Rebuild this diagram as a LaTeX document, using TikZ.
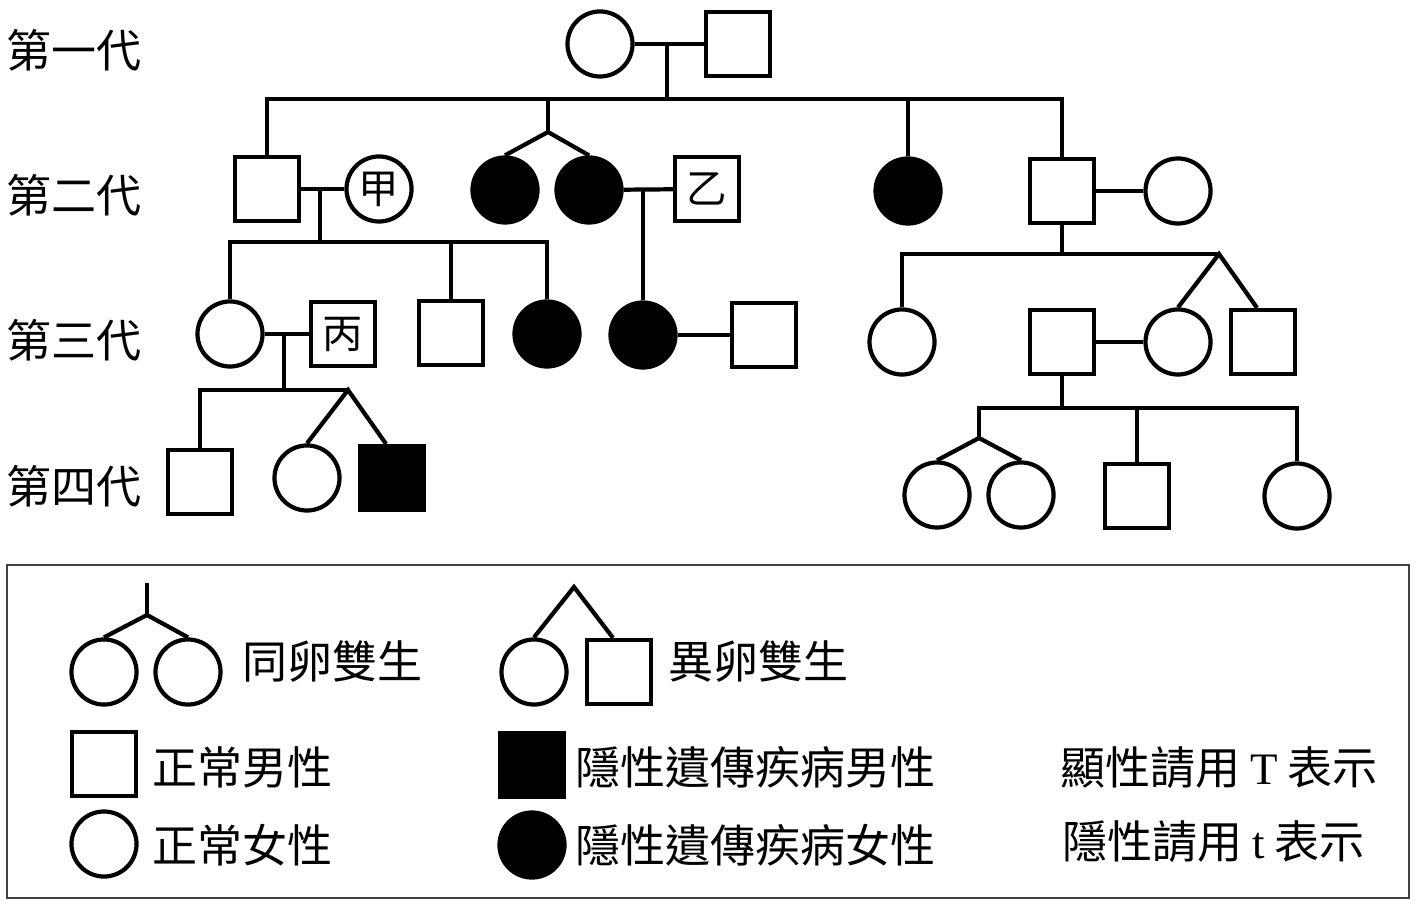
\documentclass[tikz,border=0pt]{standalone}
\usepackage{fontspec}
\newfontfamily\cjk{Noto Sans CJK TC}
\newfontfamily\latn{Liberation Serif}
\begin{document}
\begin{tikzpicture}[x=0.01cm, y=-0.01cm, line width=1.2pt,
    male/.style={rectangle, draw, minimum size=0.64cm, inner sep=0pt, font=\cjk\fontsize{11.5}{12}\selectfont},
    female/.style={circle, draw, minimum size=0.65cm, inner sep=0pt, font=\cjk\fontsize{11.5}{12}\selectfont},
    ill/.style={fill=black},
    txt/.style={anchor=west, inner sep=0pt, font=\cjk\fontsize{12.8}{14}\selectfont}]
    \useasboundingbox (0,0) rectangle (1416,910);
    % generation labels
    \node[txt] (gen1) at (4,50) {第一代};
    \node[txt] (gen2) at (4,195) {第二代};
    \node[txt] (gen3) at (4,340) {第三代};
    \node[txt] (gen4) at (4,486) {第四代};

    % first generation
    \node[female] (g1f) at (600,44) {};
    \node[male] (g1m) at (738,44) {};
    \coordinate (m1) at (667,44);
    \coordinate (s1) at (667,99);
    \draw (g1f) -- (g1m);
    \draw (m1) -- (s1);

    % second generation
    \node[male] (g2a) at (267,189) {};
    \node[female] (g2b) at (379,189) {甲};
    \node[female, ill] (g2c) at (505,190) {};
    \node[female, ill] (g2d) at (589,190) {};
    \node[male] (g2e) at (707,189) {乙};
    \node[female, ill] (g2f) at (908,191) {};
    \node[male] (g2g) at (1062,191) {};
    \node[female] (g2h) at (1178,191) {};
    \coordinate (t1) at (548,132);
    \draw (g2a.north) |- (s1) -| (g2g.north);
    \draw (t1) -- (t1 |- s1);
    \draw (g2c.north) -- (t1) -- (g2d.north);
    \draw (g2f.north) -- (g2f.north |- s1);
    \draw (g2a) -- (g2b);
    \draw (g2d) -- (g2e);
    \draw (g2g) -- (g2h);

    % third generation
    \node[female] (g3a) at (230,334) {};
    \node[male] (g3b) at (343,334) {丙};
    \node[male] (g3c) at (451,333) {};
    \node[female, ill] (g3d) at (547,334) {};
    \node[female, ill] (g3e) at (643,335) {};
    \node[male] (g3f) at (764,335) {};
    \node[female] (g3g) at (902,342) {};
    \node[male] (g3h) at (1062,342) {};
    \node[female] (g3i) at (1178,342) {};
    \node[male] (g3j) at (1263,342) {};
    \coordinate (m2) at (320,189);
    \coordinate (s2) at (320,242);
    \coordinate (m3) at (643,190);
    \coordinate (s4) at (1062,254);
    \coordinate (t2) at (1219,254);
    \draw (m2) -- (s2);
    \draw (g3a.north) |- (s2) -| (g3d.north);
    \draw (g3c.north) -- (g3c.north |- s2);
    \draw (m3) -- (g3e.north);
    \draw (g3e) -- (g3f);
    \draw (g2g.south) -- (s4);
    \draw (g3g.north) |- (t2);
    \draw (g3i.north) -- (t2) -- (g3j.100);
    \draw (g3h) -- (g3i);
    \draw (g3a) -- (g3b);

    % fourth generation
    \node[male] (g4a) at (200,482) {};
    \node[female] (g4b) at (307,478) {};
    \node[male, ill] (g4c) at (392,478) {};
    \node[female] (g4d) at (937,495) {};
    \node[female] (g4e) at (1021,495) {};
    \node[male] (g4g) at (1137,496) {};
    \node[female] (g4h) at (1297,496) {};
    \coordinate (m5) at (284,334);
    \coordinate (t4) at (348,390);
    \coordinate (s5) at (1062,408);
    \coordinate (t3) at (979,438);
    \draw (m5) -- (m5 |- t4);
    \draw (g4a.north) |- (t4);
    \draw (g4b.north) -- (t4) -- (g4c.100);
    \draw (g3h.south) -- (s5);
    \draw (t3) |- (s5) -| (g4h.north);
    \draw (g4d.north) -- (t3) -- (g4e.north);
    \draw (g4g.north) -- (g4g.north |- s5);

    % legend
    \draw[line width=0.8pt, black!75] (7,565) rectangle (1409,898);
    \node[female] (l1) at (104,672) {};
    \node[female] (l2) at (188,672) {};
    \coordinate (lt1) at (147,615);
    \coordinate (lt1top) at (147,583);
    \draw (l1.north) -- (lt1) -- (l2.north);
    \draw (lt1) -- (lt1top);
    \node[txt] (lx1) at (240,662) {同卵雙生};
    \node[female] (l3) at (534,672) {};
    \node[male] (l4) at (619,672) {};
    \coordinate (lt2) at (574,587);
    \draw (l3.north) -- (lt2) -- (l4.100);
    \node[txt] (lx2) at (666,662) {異卵雙生};
    \node[male] (l5) at (104,764) {};
    \node[txt] (lx3) at (150,767) {正常男性};
    \node[female] (l6) at (104,844) {};
    \node[txt] (lx4) at (150,845) {正常女性};
    \node[male, ill] (l7) at (532,765) {};
    \node[txt] (lx5) at (573,767) {隱性遺傳疾病男性};
    \node[female, ill] (l8) at (532,845) {};
    \node[txt] (lx6) at (573,845) {隱性遺傳疾病女性};
    \node[txt] (lx7) at (1058,768) {顯性請用 {\latn T} 表示};
    \node[txt] (lx8) at (1060,842) {隱性請用 {\latn t} 表示};
\end{tikzpicture}
\end{document}
